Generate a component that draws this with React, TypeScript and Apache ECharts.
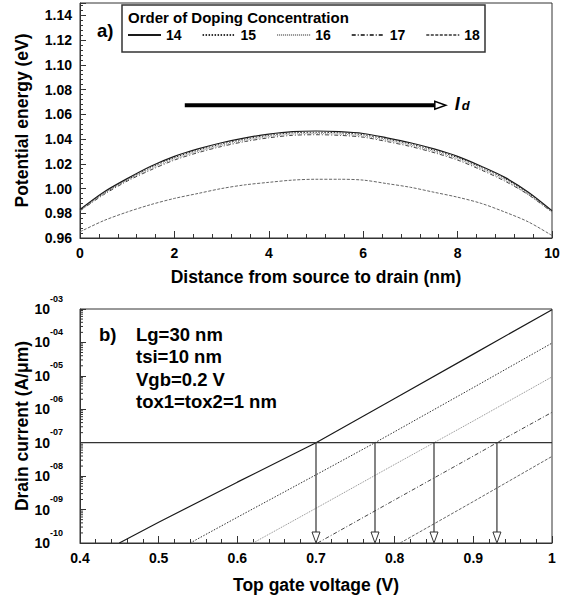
import React, { useEffect, useRef } from 'react';
import * as echarts from 'echarts';

const FONT = '"Liberation Sans", Arial, Helvetica, sans-serif';

// ---- Legend / series names ----
const seriesNames = ['14', '15', '16', '17', '18'];

// ---- Panel a): potential energy along the channel ----
const distance = [0, 0.5, 1, 1.5, 2, 2.5, 3, 3.5, 4, 4.5, 5, 5.5, 6, 6.5, 7, 7.5, 8, 8.5, 9, 9.5, 10];
const energy14 = [0.983, 0.997, 1.008, 1.018, 1.026, 1.032, 1.037, 1.041, 1.044, 1.046, 1.0465, 1.046, 1.0445, 1.041, 1.037, 1.032, 1.026, 1.018, 1.009, 0.997, 0.982];
const energy15 = [0.983, 0.996, 1.007, 1.017, 1.025, 1.031, 1.036, 1.040, 1.043, 1.045, 1.0455, 1.045, 1.0435, 1.040, 1.036, 1.031, 1.025, 1.017, 1.008, 0.996, 0.982];
const energy16 = [0.982, 0.996, 1.007, 1.016, 1.024, 1.030, 1.035, 1.039, 1.042, 1.044, 1.0445, 1.044, 1.0425, 1.039, 1.035, 1.030, 1.024, 1.016, 1.007, 0.995, 0.981];
const energy17 = [0.982, 0.995, 1.006, 1.015, 1.023, 1.029, 1.034, 1.038, 1.041, 1.043, 1.0435, 1.043, 1.0415, 1.038, 1.034, 1.029, 1.023, 1.015, 1.006, 0.995, 0.981];
const energy18 = [0.965, 0.974, 0.981, 0.987, 0.992, 0.996, 1.000, 1.003, 1.005, 1.0068, 1.0075, 1.0075, 1.0068, 1.004, 1.001, 0.997, 0.993, 0.988, 0.981, 0.973, 0.962];
const energies = [energy14, energy15, energy16, energy17, energy18];

// Id arrow annotation (x from, level, x to) in data units
const idArrow = [[2.22, 1.0673, 7.75]];

// ---- Panel b): drain current vs top gate voltage (exponents of A/um) ----
const vg14 = [0.45, 0.5, 0.6, 0.7, 0.8, 0.9, 1.0];
const exp14 = [-10, -9.38, -8.18, -7.0, -5.68, -4.35, -3.02];
const vg15 = [0.54, 0.6, 0.7, 0.775, 0.8, 0.9, 1.0];
const exp15 = [-10, -9.23, -7.96, -7.0, -6.67, -5.35, -4.02];
const vg16 = [0.62, 0.7, 0.8, 0.85, 0.9, 1.0];
const exp16 = [-10, -8.96, -7.65, -7.0, -6.35, -5.03];
const vg17 = [0.702, 0.8, 0.9, 0.93, 1.0];
const exp17 = [-10, -8.71, -7.40, -7.0, -6.09];
const vg18 = [0.807, 0.9, 1.0];
const exp18 = [-10, -8.76, -7.41];
const gateVoltages = [vg14, vg15, vg16, vg17, vg18];
const currentExps = [exp14, exp15, exp16, exp17, exp18];

const thresholdCurrent = 1e-7;
const thresholdVoltages = [0.7, 0.775, 0.85, 0.93];

const lineStyles: Record<string, any> = {
  '14': { color: '#1a1a1a', width: 1.2, type: 'solid' },
  '15': { color: '#333333', width: 1, type: [1.5, 1.5] },
  '16': { color: '#8a8a8a', width: 1, type: [1, 1] },
  '17': { color: '#444444', width: 1, type: [4, 2, 1, 2] },
  '18': { color: '#666666', width: 1, type: [3, 1.5] },
};

const AX = '#333';
const labelStyle = { fontFamily: FONT, fontWeight: 'bold' as const, fontSize: 14, color: '#000' };
const nameStyle = { fontFamily: FONT, fontWeight: 'bold' as const, fontSize: 17.5, color: '#000' };

// log-axis minor tick positions (2..9 x 10^n)
const logMinor: number[][] = [];
for (let e = -10; e < -3; e++) {
  for (let k = 2; k <= 9; k++) logMinor.push([0.4, k * Math.pow(10, e)]);
}

export default function App() {
  const ref = useRef<HTMLDivElement>(null);
  useEffect(() => {
    if (!ref.current) return;
    const chart = echarts.init(ref.current, null, { renderer: 'svg' });

    const topSeries = seriesNames.map((n, i) => ({
      type: 'line',
      name: n,
      xAxisIndex: 0,
      yAxisIndex: 0,
      data: distance.map((x, j) => [x, energies[i][j]]),
      symbol: 'none',
      smooth: 0.3,
      lineStyle: lineStyles[n],
      itemStyle: { color: lineStyles[n].color },
      z: 3,
    }));

    const bottomSeries = seriesNames.map((n, i) => ({
      type: 'line',
      name: n,
      xAxisIndex: 1,
      yAxisIndex: 1,
      data: gateVoltages[i].map((v, j) => [v, Math.pow(10, currentExps[i][j])]),
      symbol: 'none',
      lineStyle: lineStyles[n],
      itemStyle: { color: lineStyles[n].color },
      z: 3,
    }));

    const option: any = {
      animation: false,
      backgroundColor: '#fff',
      grid: [
        { left: 80, top: 3, width: 472, height: 235, show: true, borderColor: AX, borderWidth: 1 },
        { left: 80, top: 309, width: 472, height: 234, show: true, borderColor: AX, borderWidth: 1 },
      ],
      legend: {
        data: seriesNames,
        left: 127,
        top: 28,
        itemWidth: 33,
        itemHeight: 14,
        itemGap: 20,
        padding: 0,
        itemStyle: { color: 'rgba(0,0,0,0)', borderColor: 'rgba(0,0,0,0)', borderWidth: 0 },
        textStyle: { fontFamily: FONT, fontWeight: 'bold', fontSize: 14, color: '#000' },
        selectedMode: false,
      },
      xAxis: [
        {
          type: 'value', gridIndex: 0, min: 0, max: 10, interval: 2,
          axisLine: { onZero: false, lineStyle: { color: AX } },
          axisTick: { inside: true, length: 7, lineStyle: { color: AX } },
          minorTick: { show: true, splitNumber: 5, length: 4, lineStyle: { color: AX } },
          splitLine: { show: false },
          axisLabel: { ...labelStyle, margin: 8 },
          name: 'Distance from source to drain (nm)', nameLocation: 'middle', nameGap: 30,
          nameMoveOverlap: false,
          nameTextStyle: nameStyle,
        },
        {
          type: 'value', gridIndex: 1, min: 0.4, max: 1, interval: 0.1,
          axisLine: { onZero: false, lineStyle: { color: AX } },
          axisTick: { inside: true, length: 7, lineStyle: { color: AX } },
          minorTick: { show: true, splitNumber: 5, length: 4, lineStyle: { color: AX } },
          splitLine: { show: false },
          axisLabel: { ...labelStyle, margin: 8, formatter: (v: number) => String(Number(v.toFixed(1))) },
          name: 'Top gate voltage (V)', nameLocation: 'middle', nameGap: 33,
          nameMoveOverlap: false,
          nameTextStyle: nameStyle,
        },
      ],
      yAxis: [
        {
          type: 'value', gridIndex: 0, min: 0.96, max: 1.15, interval: 0.02,
          axisLine: { onZero: false, lineStyle: { color: AX } },
          axisTick: { inside: true, length: 6, lineStyle: { color: AX } },
          minorTick: { show: true, splitNumber: 5, length: 3, lineStyle: { color: AX } },
          splitLine: { show: false },
          axisLabel: { ...labelStyle, margin: 8, showMaxLabel: false, formatter: (v: number) => v.toFixed(2) },
          name: 'Potential energy (eV)', nameLocation: 'middle', nameGap: 49,
          nameMoveOverlap: false,
          nameTextStyle: nameStyle,
        },
        {
          type: 'log', logBase: 10, gridIndex: 1, min: 1e-10, max: 1e-3, splitNumber: 7,
          axisLine: { onZero: false, lineStyle: { color: AX } },
          axisTick: { inside: true, length: 6, lineStyle: { color: AX } },
          splitLine: { show: false },
          axisLabel: {
            margin: 17,
            formatter: (v: number) => {
              const e = Math.round(Math.log10(v));
              const s = (e < 0 ? '-' : '') + String(Math.abs(e)).padStart(2, '0');
              return `{b|10}{s|${s}}`;
            },
            rich: {
              b: { fontFamily: FONT, fontWeight: 'bold', fontSize: 14, color: '#000', lineHeight: 30 },
              s: { fontFamily: FONT, fontWeight: 'bold', fontSize: 9, color: '#000', lineHeight: 14, verticalAlign: 'top' },
            },
          },
          name: 'Drain current (A/\u03bcm)', nameLocation: 'middle', nameGap: 49,
          nameMoveOverlap: false,
          nameTextStyle: nameStyle,
        },
      ],
      graphic: [
        { type: 'rect', shape: { x: 122, y: 5, width: 363, height: 47 }, style: { fill: '#fff', stroke: '#333', lineWidth: 1.5 }, z: 1 },
        { type: 'text', x: 128, y: 17, z: 2, style: { text: 'Order of Doping Concentration', fontFamily: FONT, fontWeight: 'bold', fontSize: 15, fill: '#000', verticalAlign: 'middle' } },
        { type: 'text', x: 97, y: 30, z: 2, style: { text: 'a)', fontFamily: FONT, fontWeight: 'bold', fontSize: 18.5, fill: '#000', verticalAlign: 'middle' } },
        { type: 'text', x: 99, y: 334, z: 2, style: { text: 'b)', fontFamily: FONT, fontWeight: 'bold', fontSize: 18.5, fill: '#000', verticalAlign: 'middle' } },
        { type: 'text', x: 136, y: 323, z: 2, style: { text: 'Lg=30 nm\ntsi=10 nm\nVgb=0.2 V\ntox1=tox2=1 nm', lineHeight: 22.5, fontFamily: FONT, fontWeight: 'bold', fontSize: 18.5, fill: '#000', verticalAlign: 'top' } },
      ],
      series: [
        ...topSeries,
        {
          type: 'custom',
          xAxisIndex: 0, yAxisIndex: 0,
          silent: true, clip: false, z: 5,
          data: idArrow,
          renderItem: (_p: any, api: any) => {
            const a = api.coord([api.value(0), api.value(1)]);
            const b = api.coord([api.value(2), api.value(1)]);
            const y = a[1];
            const head = 11;
            return {
              type: 'group',
              children: [
                { type: 'line', shape: { x1: a[0], y1: y, x2: b[0] - head + 1, y2: y }, style: { stroke: '#000', lineWidth: 4 } },
                { type: 'polygon', shape: { points: [[b[0] - head, y - 4], [b[0] - head, y + 4], [b[0], y]] }, style: { fill: '#fff', stroke: '#000', lineWidth: 1.5 } },
                { type: 'text', x: b[0] + 9, y: y + 8, style: { text: 'I', fontFamily: FONT, fontWeight: 'bold', fontStyle: 'italic', fontSize: 18, fill: '#000', verticalAlign: 'bottom' } },
                { type: 'text', x: b[0] + 16, y: y + 7, style: { text: 'd', fontFamily: FONT, fontWeight: 'bold', fontStyle: 'italic', fontSize: 13, fill: '#000', verticalAlign: 'bottom' } },
              ],
            };
          },
        },
        ...bottomSeries,
        {
          type: 'line',
          xAxisIndex: 1, yAxisIndex: 1,
          data: [[0.4, thresholdCurrent], [1, thresholdCurrent]],
          symbol: 'none',
          lineStyle: { color: '#333', width: 1.2 },
          silent: true,
          z: 4,
        },
        {
          type: 'custom',
          xAxisIndex: 1, yAxisIndex: 1,
          silent: true, clip: false, z: 5,
          data: thresholdVoltages.map((v) => [v, thresholdCurrent]),
          renderItem: (_p: any, api: any) => {
            const top = api.coord([api.value(0), api.value(1)]);
            const bot = api.coord([api.value(0), 1e-10]);
            const h = 11;
            const w = 4;
            return {
              type: 'group',
              children: [
                { type: 'line', shape: { x1: top[0], y1: top[1], x2: bot[0], y2: bot[1] - h }, style: { stroke: '#333', lineWidth: 1.2 } },
                { type: 'polygon', shape: { points: [[bot[0] - w, bot[1] - h], [bot[0] + w, bot[1] - h], [bot[0], bot[1]]] }, style: { fill: '#fff', stroke: '#333', lineWidth: 1 } },
              ],
            };
          },
        },
        {
          type: 'custom',
          xAxisIndex: 1, yAxisIndex: 1,
          silent: true, clip: false, z: 5,
          data: logMinor,
          renderItem: (_p: any, api: any) => {
            const p = api.coord([api.value(0), api.value(1)]);
            return { type: 'line', shape: { x1: p[0], y1: p[1], x2: p[0] + 3, y2: p[1] }, style: { stroke: '#333', lineWidth: 1 } };
          },
        },
      ],
    };

    chart.setOption(option);
    return () => chart.dispose();
  }, []);

  return (
    <div
      ref={ref}
      style={{ position: 'absolute', left: 0, top: 0, width: 566, height: 601, background: '#fff' }}
    />
  );
}
